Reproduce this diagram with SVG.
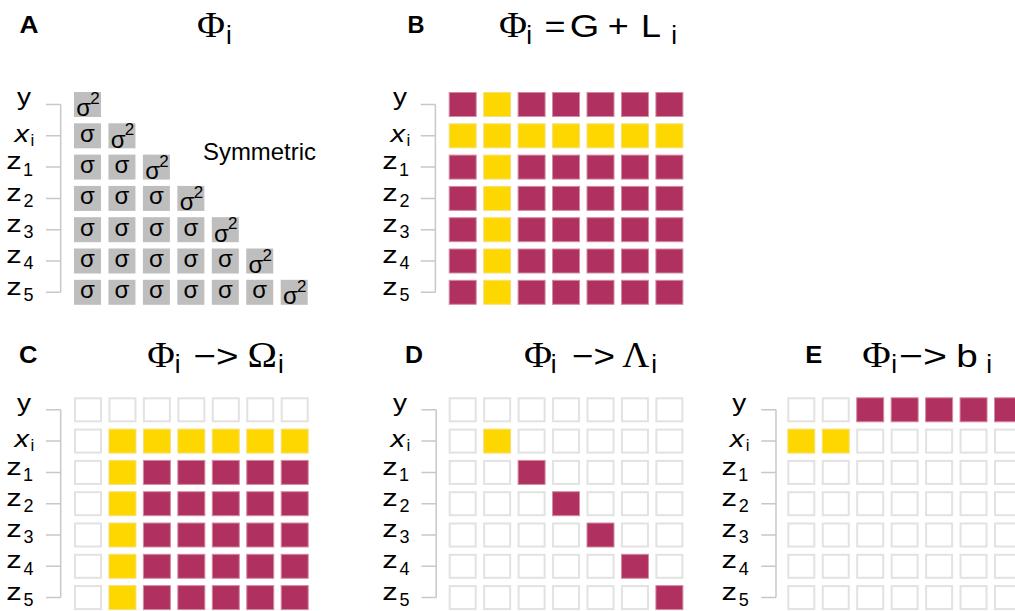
<svg xmlns="http://www.w3.org/2000/svg" width="1015" height="611" viewBox="0 0 1015 611">
<style>
  text{font-family:"Liberation Sans",Arial,sans-serif;fill:#000}
  .pl{font-size:24px;font-weight:bold}
  .gk{font-family:"Liberation Serif","Times New Roman",serif;font-size:35px}
  .tt{font-size:32px}
  .ts{font-size:26px}
  .lb{font-size:24px}
  .li{font-size:24px;font-style:italic}
  .ls{font-size:17px}
  .ld{font-size:18px}
  .sg{font-size:24px}
  .sg2{font-size:17px}
  .br{fill:none;stroke:#c8c8c8;stroke-width:1.5}
</style>
<defs>
  <!-- cell styles -->
  <rect id="g" width="27" height="25" fill="#bebebe"/>
  <rect id="m" x="0.5" y="0.5" width="27" height="24" fill="#b03060" stroke="#d48aa4" stroke-width="1"/>
  <rect id="y" x="0.5" y="0.5" width="27" height="24" fill="#ffd700" stroke="#f3e07e" stroke-width="1"/>
  <rect id="e" x="1" y="1" width="26" height="23" fill="#fff" stroke="#e2e2e2" stroke-width="2"/>
  <!-- row bracket: one tick per variable -->
  <path id="brk" class="br" d="M46 104.5H60.7M46 135.8H60.7M46 167.1H60.7M46 198.4H60.7M46 229.7H60.7M46 261H60.7M46 292.3H60.7M60.7 104.5V292.3"/>
</defs>

<!-- brackets joining row labels to the matrices -->
<g id="connectors">
  <use href="#brk"/>
  <use href="#brk" x="374.7"/>
  <use href="#brk" y="305.3"/>
  <use href="#brk" x="375.5" y="305.3"/>
  <use href="#brk" x="715.3" y="305.3"/>
</g>

<!-- Panel A: covariance matrix -->
<g id="panelA">
  <text class="pl" x="19.5" y="33" textLength="19" lengthAdjust="spacingAndGlyphs">A</text>
  <text class="gk" x="197" y="37.3" textLength="28" lengthAdjust="spacingAndGlyphs">Φ</text><text class="ts" x="226" y="44">i</text>
  <g id="rowsA">
    <text class="lb" x="17" y="105.3" textLength="14" lengthAdjust="spacingAndGlyphs">y</text>
    <text class="li" x="14.5" y="141.7" textLength="14.5" lengthAdjust="spacingAndGlyphs">x</text><text class="ls" x="30.5" y="145.5">i</text>
    <text class="lb" x="6.3" y="169.3" textLength="15.5" lengthAdjust="spacingAndGlyphs">z</text><text class="ld" x="23" y="175.5">1</text>
    <text class="lb" x="6.3" y="200.6" textLength="15.5" lengthAdjust="spacingAndGlyphs">z</text><text class="ld" x="23.5" y="206.8">2</text>
    <text class="lb" x="6.3" y="231.9" textLength="15.5" lengthAdjust="spacingAndGlyphs">z</text><text class="ld" x="23.5" y="238.1">3</text>
    <text class="lb" x="6.3" y="263.2" textLength="15.5" lengthAdjust="spacingAndGlyphs">z</text><text class="ld" x="23.5" y="269.4">4</text>
    <text class="lb" x="6.3" y="294.5" textLength="15.5" lengthAdjust="spacingAndGlyphs">z</text><text class="ld" x="23.5" y="300.7">5</text>
  </g>
  <use href="#g" x="74" y="92"/>
  <use href="#g" x="74" y="123.3"/><use href="#g" x="108.45" y="123.3"/>
  <use href="#g" x="74" y="154.6"/><use href="#g" x="108.45" y="154.6"/><use href="#g" x="142.9" y="154.6"/>
  <use href="#g" x="74" y="185.9"/><use href="#g" x="108.45" y="185.9"/><use href="#g" x="142.9" y="185.9"/><use href="#g" x="177.35" y="185.9"/>
  <use href="#g" x="74" y="217.2"/><use href="#g" x="108.45" y="217.2"/><use href="#g" x="142.9" y="217.2"/><use href="#g" x="177.35" y="217.2"/><use href="#g" x="211.8" y="217.2"/>
  <use href="#g" x="74" y="248.5"/><use href="#g" x="108.45" y="248.5"/><use href="#g" x="142.9" y="248.5"/><use href="#g" x="177.35" y="248.5"/><use href="#g" x="211.8" y="248.5"/><use href="#g" x="246.25" y="248.5"/>
  <use href="#g" x="74" y="279.8"/><use href="#g" x="108.45" y="279.8"/><use href="#g" x="142.9" y="279.8"/><use href="#g" x="177.35" y="279.8"/><use href="#g" x="211.8" y="279.8"/><use href="#g" x="246.25" y="279.8"/><use href="#g" x="280.7" y="279.8"/>
  <!-- off-diagonal covariances -->
  <g class="sg" text-anchor="middle">
    <text x="87.5" y="141.7">σ</text>
    <text x="87.5 121.95" y="173">σσ</text>
    <text x="87.5 121.95 156.4" y="204.3">σσσ</text>
    <text x="87.5 121.95 156.4 190.85" y="235.6">σσσσ</text>
    <text x="87.5 121.95 156.4 190.85 225.3" y="266.9">σσσσσ</text>
    <text x="87.5 121.95 156.4 190.85 225.3 259.75" y="298.2">σσσσσσ</text>
  </g>
  <!-- diagonal variances -->
  <g>
    <text class="sg" x="76.3" y="116.3">σ</text><text class="sg2" x="90.3" y="104">2</text>
    <text class="sg" x="110.75" y="147.6">σ</text><text class="sg2" x="124.75" y="135.3">2</text>
    <text class="sg" x="145.2" y="178.9">σ</text><text class="sg2" x="159.2" y="166.6">2</text>
    <text class="sg" x="179.65" y="210.2">σ</text><text class="sg2" x="193.65" y="197.9">2</text>
    <text class="sg" x="214.1" y="241.5">σ</text><text class="sg2" x="228.1" y="229.2">2</text>
    <text class="sg" x="248.55" y="272.8">σ</text><text class="sg2" x="262.55" y="260.5">2</text>
    <text class="sg" x="283" y="304.1">σ</text><text class="sg2" x="297" y="291.8">2</text>
  </g>
  <text class="lb" x="203" y="160" textLength="113" lengthAdjust="spacingAndGlyphs">Symmetric</text>
</g>

<!-- Panel B: global + local terms -->
<g id="panelB">
  <text class="pl" x="407.5" y="33" textLength="17" lengthAdjust="spacingAndGlyphs">B</text>
  <text class="gk" x="499" y="37.3" textLength="28" lengthAdjust="spacingAndGlyphs">Φ</text><text class="ts" x="526.3" y="44">i</text>
  <text class="tt" x="544.5" y="37.3" textLength="21" lengthAdjust="spacingAndGlyphs">=</text>
  <text class="tt" x="569.8" y="37.3" textLength="29.5" lengthAdjust="spacingAndGlyphs">G</text>
  <text class="tt" x="607.8" y="37.3" textLength="21" lengthAdjust="spacingAndGlyphs">+</text>
  <text class="tt" x="641" y="37.3" textLength="20" lengthAdjust="spacingAndGlyphs">L</text><text class="ts" x="671.3" y="44">i</text>
  <g transform="translate(376 0)">
    <text class="lb" x="17" y="105.3" textLength="14" lengthAdjust="spacingAndGlyphs">y</text>
    <text class="li" x="14.5" y="141.7" textLength="14.5" lengthAdjust="spacingAndGlyphs">x</text><text class="ls" x="30.5" y="145.5">i</text>
    <text class="lb" x="6.3" y="169.3" textLength="15.5" lengthAdjust="spacingAndGlyphs">z</text><text class="ld" x="23" y="175.5">1</text>
    <text class="lb" x="6.3" y="200.6" textLength="15.5" lengthAdjust="spacingAndGlyphs">z</text><text class="ld" x="23.5" y="206.8">2</text>
    <text class="lb" x="6.3" y="231.9" textLength="15.5" lengthAdjust="spacingAndGlyphs">z</text><text class="ld" x="23.5" y="238.1">3</text>
    <text class="lb" x="6.3" y="263.2" textLength="15.5" lengthAdjust="spacingAndGlyphs">z</text><text class="ld" x="23.5" y="269.4">4</text>
    <text class="lb" x="6.3" y="294.5" textLength="15.5" lengthAdjust="spacingAndGlyphs">z</text><text class="ld" x="23.5" y="300.7">5</text>
  </g>
  <g transform="translate(374.7 0)">
    <use href="#m" x="74" y="92"/><use href="#y" x="108.45" y="92"/><use href="#m" x="142.9" y="92"/><use href="#m" x="177.35" y="92"/><use href="#m" x="211.8" y="92"/><use href="#m" x="246.25" y="92"/><use href="#m" x="280.7" y="92"/>
    <use href="#y" x="74" y="123.3"/><use href="#y" x="108.45" y="123.3"/><use href="#y" x="142.9" y="123.3"/><use href="#y" x="177.35" y="123.3"/><use href="#y" x="211.8" y="123.3"/><use href="#y" x="246.25" y="123.3"/><use href="#y" x="280.7" y="123.3"/>
    <use href="#m" x="74" y="154.6"/><use href="#y" x="108.45" y="154.6"/><use href="#m" x="142.9" y="154.6"/><use href="#m" x="177.35" y="154.6"/><use href="#m" x="211.8" y="154.6"/><use href="#m" x="246.25" y="154.6"/><use href="#m" x="280.7" y="154.6"/>
    <use href="#m" x="74" y="185.9"/><use href="#y" x="108.45" y="185.9"/><use href="#m" x="142.9" y="185.9"/><use href="#m" x="177.35" y="185.9"/><use href="#m" x="211.8" y="185.9"/><use href="#m" x="246.25" y="185.9"/><use href="#m" x="280.7" y="185.9"/>
    <use href="#m" x="74" y="217.2"/><use href="#y" x="108.45" y="217.2"/><use href="#m" x="142.9" y="217.2"/><use href="#m" x="177.35" y="217.2"/><use href="#m" x="211.8" y="217.2"/><use href="#m" x="246.25" y="217.2"/><use href="#m" x="280.7" y="217.2"/>
    <use href="#m" x="74" y="248.5"/><use href="#y" x="108.45" y="248.5"/><use href="#m" x="142.9" y="248.5"/><use href="#m" x="177.35" y="248.5"/><use href="#m" x="211.8" y="248.5"/><use href="#m" x="246.25" y="248.5"/><use href="#m" x="280.7" y="248.5"/>
    <use href="#m" x="74" y="279.8"/><use href="#y" x="108.45" y="279.8"/><use href="#m" x="142.9" y="279.8"/><use href="#m" x="177.35" y="279.8"/><use href="#m" x="211.8" y="279.8"/><use href="#m" x="246.25" y="279.8"/><use href="#m" x="280.7" y="279.8"/>
  </g>
</g>

<!-- Panel C: Omega block -->
<g id="panelC">
  <text class="pl" x="19" y="363.3" textLength="18.5" lengthAdjust="spacingAndGlyphs">C</text>
  <text class="gk" x="147.3" y="367.3" textLength="27.5" lengthAdjust="spacingAndGlyphs">Φ</text><text class="ts" x="174.8" y="373">i</text>
  <text class="tt" x="193.5" y="367.3" textLength="45" lengthAdjust="spacingAndGlyphs">−&gt;</text>
  <text class="gk" x="247.5" y="367.3" textLength="29.5" lengthAdjust="spacingAndGlyphs">Ω</text><text class="ts" x="278" y="373">i</text>
  <g transform="translate(0 305.3)">
    <text class="lb" x="17" y="105.3" textLength="14" lengthAdjust="spacingAndGlyphs">y</text>
    <text class="li" x="14.5" y="141.7" textLength="14.5" lengthAdjust="spacingAndGlyphs">x</text><text class="ls" x="30.5" y="145.5">i</text>
    <text class="lb" x="6.3" y="169.3" textLength="15.5" lengthAdjust="spacingAndGlyphs">z</text><text class="ld" x="23" y="175.5">1</text>
    <text class="lb" x="6.3" y="200.6" textLength="15.5" lengthAdjust="spacingAndGlyphs">z</text><text class="ld" x="23.5" y="206.8">2</text>
    <text class="lb" x="6.3" y="231.9" textLength="15.5" lengthAdjust="spacingAndGlyphs">z</text><text class="ld" x="23.5" y="238.1">3</text>
    <text class="lb" x="6.3" y="263.2" textLength="15.5" lengthAdjust="spacingAndGlyphs">z</text><text class="ld" x="23.5" y="269.4">4</text>
    <text class="lb" x="6.3" y="294.5" textLength="15.5" lengthAdjust="spacingAndGlyphs">z</text><text class="ld" x="23.5" y="300.7">5</text>
    <use href="#e" x="74" y="92"/><use href="#e" x="108.45" y="92"/><use href="#e" x="142.9" y="92"/><use href="#e" x="177.35" y="92"/><use href="#e" x="211.8" y="92"/><use href="#e" x="246.25" y="92"/><use href="#e" x="280.7" y="92"/>
    <use href="#e" x="74" y="123.3"/><use href="#y" x="108.45" y="123.3"/><use href="#y" x="142.9" y="123.3"/><use href="#y" x="177.35" y="123.3"/><use href="#y" x="211.8" y="123.3"/><use href="#y" x="246.25" y="123.3"/><use href="#y" x="280.7" y="123.3"/>
    <use href="#e" x="74" y="154.6"/><use href="#y" x="108.45" y="154.6"/><use href="#m" x="142.9" y="154.6"/><use href="#m" x="177.35" y="154.6"/><use href="#m" x="211.8" y="154.6"/><use href="#m" x="246.25" y="154.6"/><use href="#m" x="280.7" y="154.6"/>
    <use href="#e" x="74" y="185.9"/><use href="#y" x="108.45" y="185.9"/><use href="#m" x="142.9" y="185.9"/><use href="#m" x="177.35" y="185.9"/><use href="#m" x="211.8" y="185.9"/><use href="#m" x="246.25" y="185.9"/><use href="#m" x="280.7" y="185.9"/>
    <use href="#e" x="74" y="217.2"/><use href="#y" x="108.45" y="217.2"/><use href="#m" x="142.9" y="217.2"/><use href="#m" x="177.35" y="217.2"/><use href="#m" x="211.8" y="217.2"/><use href="#m" x="246.25" y="217.2"/><use href="#m" x="280.7" y="217.2"/>
    <use href="#e" x="74" y="248.5"/><use href="#y" x="108.45" y="248.5"/><use href="#m" x="142.9" y="248.5"/><use href="#m" x="177.35" y="248.5"/><use href="#m" x="211.8" y="248.5"/><use href="#m" x="246.25" y="248.5"/><use href="#m" x="280.7" y="248.5"/>
    <use href="#e" x="74" y="279.8"/><use href="#y" x="108.45" y="279.8"/><use href="#m" x="142.9" y="279.8"/><use href="#m" x="177.35" y="279.8"/><use href="#m" x="211.8" y="279.8"/><use href="#m" x="246.25" y="279.8"/><use href="#m" x="280.7" y="279.8"/>
  </g>
</g>

<!-- Panel D: Lambda diagonal -->
<g id="panelD">
  <text class="pl" x="405" y="363.3" textLength="18" lengthAdjust="spacingAndGlyphs">D</text>
  <text class="gk" x="524" y="367.3" textLength="28" lengthAdjust="spacingAndGlyphs">Φ</text><text class="ts" x="550.8" y="373">i</text>
  <text class="tt" x="572" y="367.3" textLength="43" lengthAdjust="spacingAndGlyphs">−&gt;</text>
  <text class="gk" x="622.3" y="367.3" textLength="27" lengthAdjust="spacingAndGlyphs">Λ</text><text class="ts" x="651.3" y="373">i</text>
  <g transform="translate(376 305.3)">
    <text class="lb" x="17" y="105.3" textLength="14" lengthAdjust="spacingAndGlyphs">y</text>
    <text class="li" x="14.5" y="141.7" textLength="14.5" lengthAdjust="spacingAndGlyphs">x</text><text class="ls" x="30.5" y="145.5">i</text>
    <text class="lb" x="6.3" y="169.3" textLength="15.5" lengthAdjust="spacingAndGlyphs">z</text><text class="ld" x="23" y="175.5">1</text>
    <text class="lb" x="6.3" y="200.6" textLength="15.5" lengthAdjust="spacingAndGlyphs">z</text><text class="ld" x="23.5" y="206.8">2</text>
    <text class="lb" x="6.3" y="231.9" textLength="15.5" lengthAdjust="spacingAndGlyphs">z</text><text class="ld" x="23.5" y="238.1">3</text>
    <text class="lb" x="6.3" y="263.2" textLength="15.5" lengthAdjust="spacingAndGlyphs">z</text><text class="ld" x="23.5" y="269.4">4</text>
    <text class="lb" x="6.3" y="294.5" textLength="15.5" lengthAdjust="spacingAndGlyphs">z</text><text class="ld" x="23.5" y="300.7">5</text>
  </g>
  <g transform="translate(374.7 305.3)">
    <use href="#e" x="74" y="92"/><use href="#e" x="108.45" y="92"/><use href="#e" x="142.9" y="92"/><use href="#e" x="177.35" y="92"/><use href="#e" x="211.8" y="92"/><use href="#e" x="246.25" y="92"/><use href="#e" x="280.7" y="92"/>
    <use href="#e" x="74" y="123.3"/><use href="#y" x="108.45" y="123.3"/><use href="#e" x="142.9" y="123.3"/><use href="#e" x="177.35" y="123.3"/><use href="#e" x="211.8" y="123.3"/><use href="#e" x="246.25" y="123.3"/><use href="#e" x="280.7" y="123.3"/>
    <use href="#e" x="74" y="154.6"/><use href="#e" x="108.45" y="154.6"/><use href="#m" x="142.9" y="154.6"/><use href="#e" x="177.35" y="154.6"/><use href="#e" x="211.8" y="154.6"/><use href="#e" x="246.25" y="154.6"/><use href="#e" x="280.7" y="154.6"/>
    <use href="#e" x="74" y="185.9"/><use href="#e" x="108.45" y="185.9"/><use href="#e" x="142.9" y="185.9"/><use href="#m" x="177.35" y="185.9"/><use href="#e" x="211.8" y="185.9"/><use href="#e" x="246.25" y="185.9"/><use href="#e" x="280.7" y="185.9"/>
    <use href="#e" x="74" y="217.2"/><use href="#e" x="108.45" y="217.2"/><use href="#e" x="142.9" y="217.2"/><use href="#e" x="177.35" y="217.2"/><use href="#m" x="211.8" y="217.2"/><use href="#e" x="246.25" y="217.2"/><use href="#e" x="280.7" y="217.2"/>
    <use href="#e" x="74" y="248.5"/><use href="#e" x="108.45" y="248.5"/><use href="#e" x="142.9" y="248.5"/><use href="#e" x="177.35" y="248.5"/><use href="#e" x="211.8" y="248.5"/><use href="#m" x="246.25" y="248.5"/><use href="#e" x="280.7" y="248.5"/>
    <use href="#e" x="74" y="279.8"/><use href="#e" x="108.45" y="279.8"/><use href="#e" x="142.9" y="279.8"/><use href="#e" x="177.35" y="279.8"/><use href="#e" x="211.8" y="279.8"/><use href="#e" x="246.25" y="279.8"/><use href="#m" x="280.7" y="279.8"/>
  </g>
</g>

<!-- Panel E: b vector -->
<g id="panelE">
  <text class="pl" x="805.3" y="363.3" textLength="17" lengthAdjust="spacingAndGlyphs">E</text>
  <text class="gk" x="862.3" y="367.3" textLength="28.5" lengthAdjust="spacingAndGlyphs">Φ</text><text class="ts" x="891.3" y="373">i</text>
  <text class="tt" x="899" y="367.3" textLength="48" lengthAdjust="spacingAndGlyphs">−&gt;</text>
  <text class="tt" x="956.3" y="367.3" textLength="21.5" lengthAdjust="spacingAndGlyphs">b</text><text class="ts" x="986.3" y="373">i</text>
  <g transform="translate(715.3 305.3)">
    <text class="lb" x="17" y="105.3" textLength="14" lengthAdjust="spacingAndGlyphs">y</text>
    <text class="li" x="14.5" y="141.7" textLength="14.5" lengthAdjust="spacingAndGlyphs">x</text><text class="ls" x="30.5" y="145.5">i</text>
    <text class="lb" x="6.3" y="169.3" textLength="15.5" lengthAdjust="spacingAndGlyphs">z</text><text class="ld" x="23" y="175.5">1</text>
    <text class="lb" x="6.3" y="200.6" textLength="15.5" lengthAdjust="spacingAndGlyphs">z</text><text class="ld" x="23.5" y="206.8">2</text>
    <text class="lb" x="6.3" y="231.9" textLength="15.5" lengthAdjust="spacingAndGlyphs">z</text><text class="ld" x="23.5" y="238.1">3</text>
    <text class="lb" x="6.3" y="263.2" textLength="15.5" lengthAdjust="spacingAndGlyphs">z</text><text class="ld" x="23.5" y="269.4">4</text>
    <text class="lb" x="6.3" y="294.5" textLength="15.5" lengthAdjust="spacingAndGlyphs">z</text><text class="ld" x="23.5" y="300.7">5</text>
  </g>
  <g transform="translate(713.3 305.3)">
    <use href="#e" x="74" y="92"/><use href="#e" x="108.45" y="92"/><use href="#m" x="142.9" y="92"/><use href="#m" x="177.35" y="92"/><use href="#m" x="211.8" y="92"/><use href="#m" x="246.25" y="92"/><use href="#m" x="280.7" y="92"/>
    <use href="#y" x="74" y="123.3"/><use href="#y" x="108.45" y="123.3"/><use href="#e" x="142.9" y="123.3"/><use href="#e" x="177.35" y="123.3"/><use href="#e" x="211.8" y="123.3"/><use href="#e" x="246.25" y="123.3"/><use href="#e" x="280.7" y="123.3"/>
    <use href="#e" x="74" y="154.6"/><use href="#e" x="108.45" y="154.6"/><use href="#e" x="142.9" y="154.6"/><use href="#e" x="177.35" y="154.6"/><use href="#e" x="211.8" y="154.6"/><use href="#e" x="246.25" y="154.6"/><use href="#e" x="280.7" y="154.6"/>
    <use href="#e" x="74" y="185.9"/><use href="#e" x="108.45" y="185.9"/><use href="#e" x="142.9" y="185.9"/><use href="#e" x="177.35" y="185.9"/><use href="#e" x="211.8" y="185.9"/><use href="#e" x="246.25" y="185.9"/><use href="#e" x="280.7" y="185.9"/>
    <use href="#e" x="74" y="217.2"/><use href="#e" x="108.45" y="217.2"/><use href="#e" x="142.9" y="217.2"/><use href="#e" x="177.35" y="217.2"/><use href="#e" x="211.8" y="217.2"/><use href="#e" x="246.25" y="217.2"/><use href="#e" x="280.7" y="217.2"/>
    <use href="#e" x="74" y="248.5"/><use href="#e" x="108.45" y="248.5"/><use href="#e" x="142.9" y="248.5"/><use href="#e" x="177.35" y="248.5"/><use href="#e" x="211.8" y="248.5"/><use href="#e" x="246.25" y="248.5"/><use href="#e" x="280.7" y="248.5"/>
    <use href="#e" x="74" y="279.8"/><use href="#e" x="108.45" y="279.8"/><use href="#e" x="142.9" y="279.8"/><use href="#e" x="177.35" y="279.8"/><use href="#e" x="211.8" y="279.8"/><use href="#e" x="246.25" y="279.8"/><use href="#e" x="280.7" y="279.8"/>
  </g>
</g>
</svg>
